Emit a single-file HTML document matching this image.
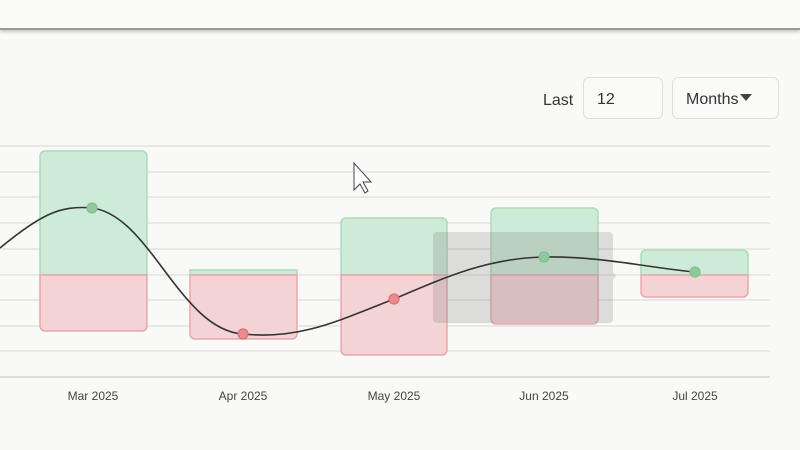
<!DOCTYPE html>
<html><head><style>
body{margin:0;width:800px;height:450px;background:#f9f9f7;font-family:"Liberation Sans",sans-serif;overflow:hidden;position:relative}
.top{position:absolute;left:0;top:0;width:800px;height:28px;background:#fafaf8;border-bottom:2px solid #9a9a9a;box-shadow:0 2px 3px rgba(0,0,0,.2)}
.lbl{position:absolute;left:543px;top:92px;font-size:16px;color:#333}
.box{position:absolute;top:77px;height:42px;border:1px solid #ddd;border-radius:6px;background:#fafaf9;font-size:16px;color:#333;box-sizing:border-box;line-height:44px}
</style></head><body>
<div class="top"></div>
<div class="lbl">Last</div>
<div class="box" style="left:583px;width:80px;padding-left:13px">12</div>
<div class="box" style="left:672px;width:107px;padding-left:13px">Months<span style="display:inline-block;width:0;height:0;border-left:6px solid transparent;border-right:6px solid transparent;border-top:7px solid #444;margin-left:2px;position:relative;top:-3px"></span></div>
<svg width="800" height="450" style="position:absolute;left:0;top:0">
<g stroke="#ddd" stroke-width="1.2">
<line x1="0" x2="770" y1="146" y2="146"/><line x1="0" x2="770" y1="172" y2="172"/>
<line x1="0" x2="770" y1="197" y2="197"/><line x1="0" x2="770" y1="223" y2="223"/>
<line x1="0" x2="770" y1="249" y2="249"/><line x1="0" x2="770" y1="275" y2="275"/>
<line x1="0" x2="770" y1="300" y2="300"/><line x1="0" x2="770" y1="326" y2="326"/>
<line x1="0" x2="770" y1="351" y2="351"/><line x1="0" x2="770" y1="377" y2="377" stroke="#ccc"/>
</g>
<g stroke-width="1.5">
<path d="M40 275V156a5 5 0 0 1 5-5h97a5 5 0 0 1 5 5V275Z" fill="#cdebd7" stroke="#a9dcb8"/>
<path d="M40 275V326a5 5 0 0 0 5 5h97a5 5 0 0 0 5-5V275Z" fill="#f3d3d4" stroke="#e9a8ab"/>
<path d="M190 275V270h107v5Z" fill="#cdebd7" stroke="#a9dcb8"/>
<path d="M190 275V334a5 5 0 0 0 5 5h97a5 5 0 0 0 5-5V275Z" fill="#f3d3d4" stroke="#e9a8ab"/>
<path d="M341 275V223a5 5 0 0 1 5-5h96a5 5 0 0 1 5 5V275Z" fill="#cdebd7" stroke="#a9dcb8"/>
<path d="M341 275V350a5 5 0 0 0 5 5h96a5 5 0 0 0 5-5V275Z" fill="#f3d3d4" stroke="#e9a8ab"/>
<path d="M491 275V213a5 5 0 0 1 5-5h97a5 5 0 0 1 5 5V275Z" fill="#cdebd7" stroke="#a9dcb8"/>
<path d="M491 275V319a5 5 0 0 0 5 5h97a5 5 0 0 0 5-5V275Z" fill="#f3d3d4" stroke="#e9a8ab"/>
<path d="M641 275V255a5 5 0 0 1 5-5h97a5 5 0 0 1 5 5V275Z" fill="#cdebd7" stroke="#a9dcb8"/>
<path d="M641 275V292a5 5 0 0 0 5 5h97a5 5 0 0 0 5-5V275Z" fill="#f3d3d4" stroke="#e9a8ab"/>
</g>
<path d="M437 232h172a4 4 0 0 1 4 4v36l3 4-3 4v39a4 4 0 0 1-4 4h-172a4 4 0 0 1-4-4v-83a4 4 0 0 1 4-4Z" fill="rgba(120,120,120,0.22)"/>
<path d="M0 248C40 215 60 205 92 208C150 215 180 330 243 334C300 340 340 320 394 299C450 275 490 258 544 257C600 256 650 268 695 272" fill="none" stroke="#333" stroke-width="1.6"/>
<g stroke-width="1.2">
<circle cx="92" cy="208" r="5" fill="#92c99c" stroke="#7fbf8c"/>
<circle cx="243" cy="334" r="5" fill="#ec8a90" stroke="#d9707a"/>
<circle cx="394" cy="299" r="5" fill="#ec8a90" stroke="#d9707a"/>
<circle cx="544" cy="257" r="5" fill="#92c99c" stroke="#7fbf8c"/>
<circle cx="695" cy="272" r="5" fill="#92c99c" stroke="#7fbf8c"/>
</g>
<g font-size="12" fill="#444" text-anchor="middle" font-family="Liberation Sans,sans-serif">
<text x="93" y="400">Mar 2025</text><text x="243" y="400">Apr 2025</text>
<text x="394" y="400">May 2025</text><text x="544" y="400">Jun 2025</text><text x="695" y="400">Jul 2025</text>
</g>
<path d="M354 163v27l6-6 5 9 3-2-5-9 8 0Z" fill="#fff" stroke="#444" stroke-width="1"/>
</svg>
</body></html>
